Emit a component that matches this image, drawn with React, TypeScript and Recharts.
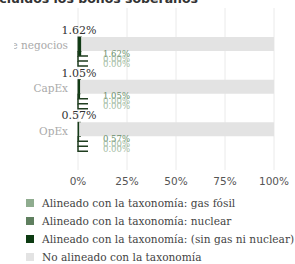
import React from 'react';
import { BarChart, Bar, XAxis, YAxis, CartesianGrid, LabelList } from 'recharts';

const categories = ['Volumen de negocios', 'CapEx', 'OpEx'];
const alignedTotal = [1.62, 1.05, 0.57];
const notAligned = [98.38, 98.95, 99.43];
const noGasNoNuclear = [1.62, 1.05, 0.57];
const nuclear = [0, 0, 0];
const fossilGas = [0, 0, 0];
const xTicks = [0, 25, 50, 75, 100];

const legendItems = [
  { label: 'Alineado con la taxonomía: gas fósil', color: '#8fac8f' },
  { label: 'Alineado con la taxonomía: nuclear', color: '#5f7f5f' },
  { label: 'Alineado con la taxonomía: (sin gas ni nuclear)', color: '#0d3b12' },
  { label: 'No alineado con la taxonomía', color: '#e3e3e3' },
];

const data = categories.map((name, i) => ({
  name,
  aligned: alignedTotal[i],
  notAligned: notAligned[i],
  noGas: noGasNoNuclear[i],
  nuclear: nuclear[i],
  gas: fossilGas[i],
}));

const fmt = (v: number) => `${v.toFixed(2)}%`;

const ThinBar = (props: any) => {
  const { x, y, width, height, fill } = props;
  return (
    <g>
      <rect x={x} y={y} width={Math.max(width, 0)} height={height} fill={fill} />
      <path d={`M${x},${y} V${y + height} H${x + 10}`} stroke="#1f3d1f" strokeWidth={1.5} fill="none" />
    </g>
  );
};

const AlignedBar = (props: any) => {
  const { x, y, width, height } = props;
  return <rect x={x} y={y} width={Math.max(width, 2.5)} height={height} fill="#0d3b12" stroke="#1f3d1f" strokeWidth={1} />;
};

const SideLabel = (color: string) => (props: any) => {
  const { x, y, height, value } = props;
  return (
    <text x={x + 25} y={y + height / 2 + 3} fill={color} fontSize={8.5} fontFamily="DejaVu Serif">
      {fmt(Number(value))}
    </text>
  );
};

const TopLabel = (props: any) => {
  const { x, y, value } = props;
  return (
    <text x={x + 1} y={y - 3} textAnchor="middle" fill="#333" fontSize={11} fontFamily="DejaVu Serif">
      {fmt(Number(value))}
    </text>
  );
};

// the source image cuts the long category label a little left of the axis
const CategoryTick = (props: any) => {
  const { y, payload } = props;
  return (
    <g>
      <defs>
        <clipPath id="ytick-clip">
          <rect x={14} y={0} width={64} height={200} />
        </clipPath>
      </defs>
      <text x={68} y={y - 2} textAnchor="end" fill="#aaa" fontSize={10.5} fontFamily="DejaVu Serif" clipPath="url(#ytick-clip)">
        {payload.value}
      </text>
    </g>
  );
};

export default function App() {
  return (
    <div style={{ position: 'absolute', left: 0, top: 0, width: 295, height: 264, background: '#fff', overflow: 'hidden' }}>
      <div
        style={{
          position: 'absolute',
          right: 97,
          top: -9,
          fontFamily: 'DejaVu Sans',
          fontWeight: 'bold',
          fontSize: 12.5,
          color: '#333',
          whiteSpace: 'nowrap',
        }}
      >
        incluidos los bonos soberanos
      </div>
      <div style={{ position: 'absolute', left: 0, top: 0 }}>
        <BarChart
          width={295}
          height={195}
          data={data}
          layout="vertical"
          margin={{ top: 8, right: 21, bottom: 0, left: 0 }}
          barGap={0}
        >
          <CartesianGrid horizontal={false} stroke="#eaeaea" />
          <XAxis
            type="number"
            domain={[0, 100]}
            ticks={xTicks}
            tickFormatter={(v) => `${v}%`}
            axisLine={false}
            tickLine={false}
            height={25}
            tick={{ fill: '#555', fontSize: 10.5, fontFamily: 'DejaVu Sans' }}
          />
          <YAxis
            type="category"
            dataKey="name"
            width={78}
            axisLine={false}
            tickLine={false}
            padding={{ top: 22, bottom: 12 }}
            tick={<CategoryTick />}
          />
          <Bar dataKey="aligned" stackId="a" barSize={14} fill="#0d3b12" shape={<AlignedBar />} isAnimationActive={false}>
            <LabelList dataKey="aligned" content={TopLabel} />
          </Bar>
          <Bar dataKey="notAligned" stackId="a" barSize={14} fill="#e3e3e3" isAnimationActive={false} />
          <Bar dataKey="noGas" stackId="b" barSize={5} fill="#0d3b12" shape={<ThinBar />} isAnimationActive={false}>
            <LabelList dataKey="noGas" content={SideLabel('#6a8f6a')} />
          </Bar>
          <Bar dataKey="nuclear" stackId="c" barSize={5} fill="#5f7f5f" shape={<ThinBar />} isAnimationActive={false}>
            <LabelList dataKey="nuclear" content={SideLabel('#a3bba3')} />
          </Bar>
          <Bar dataKey="gas" stackId="d" barSize={5} fill="#8fac8f" shape={<ThinBar />} isAnimationActive={false}>
            <LabelList dataKey="gas" content={SideLabel('#a3bba3')} />
          </Bar>
        </BarChart>
      </div>
      <div style={{ position: 'absolute', left: 26, top: 194 }}>
        {legendItems.map((item) => (
          <div key={item.label} style={{ display: 'flex', alignItems: 'center', height: 18 }}>
            <span style={{ display: 'inline-block', width: 8, height: 8, background: item.color, marginRight: 8 }} />
            <span style={{ fontFamily: 'DejaVu Serif', fontSize: 10.6, color: '#444', whiteSpace: 'nowrap' }}>{item.label}</span>
          </div>
        ))}
      </div>
    </div>
  );
}
